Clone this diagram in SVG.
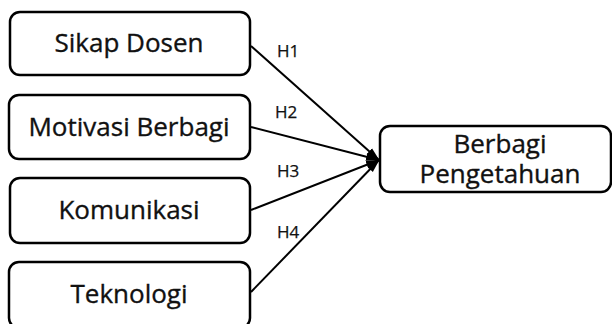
<svg xmlns="http://www.w3.org/2000/svg" width="612" height="324" viewBox="0 0 612 324">
<style>
.box{fill:#fff;stroke:#000;stroke-width:2.5}
.lbl{font-family:"Open Sans","Liberation Sans",sans-serif;font-size:26px;fill:#111;stroke:#111;stroke-width:0.35;text-anchor:middle}
.h{font-family:"Open Sans","Liberation Sans",sans-serif;font-size:17px;fill:#111;stroke:#111;stroke-width:0.25}
.edge{stroke:#000;stroke-width:2;fill:none;marker-end:url(#arr)}
</style>
<defs>
<marker id="arr" markerWidth="14" markerHeight="10" refX="13" refY="5" orient="auto" markerUnits="userSpaceOnUse">
<path d="M0,1 L14,5 L0,9 Z" fill="#000"/>
</marker>
</defs>
<rect width="612" height="324" fill="#fff"/>
<g id="connectors">
<line class="edge" x1="251" y1="46" x2="379" y2="160"/>
<line class="edge" x1="251" y1="127" x2="379" y2="160"/>
<line class="edge" x1="251" y1="210" x2="379" y2="160"/>
<line class="edge" x1="251" y1="292" x2="379" y2="160"/>
<text class="h" x="277" y="57">H1</text>
<text class="h" x="275" y="118">H2</text>
<text class="h" x="277" y="177">H3</text>
<text class="h" x="277" y="238">H4</text>
</g>
<g id="sikap">
<rect class="box" x="10" y="12" width="240" height="63" rx="10"/>
<text class="lbl" x="129" y="52">Sikap Dosen</text>
</g>
<g id="motivasi">
<rect class="box" x="9" y="95" width="241" height="64" rx="10"/>
<text class="lbl" x="129" y="136">Motivasi Berbagi</text>
</g>
<g id="komunikasi">
<rect class="box" x="10" y="178" width="240" height="65" rx="10"/>
<text class="lbl" x="129" y="219">Komunikasi</text>
</g>
<g id="teknologi">
<rect class="box" x="9" y="262" width="241" height="66" rx="10"/>
<text class="lbl" x="129" y="303">Teknologi</text>
</g>
<g id="berbagi">
<rect class="box" x="380" y="126" width="231" height="66" rx="10"/>
<text class="lbl" x="500" y="153">Berbagi</text>
<text class="lbl" x="500" y="183">Pengetahuan</text>
</g>
</svg>
